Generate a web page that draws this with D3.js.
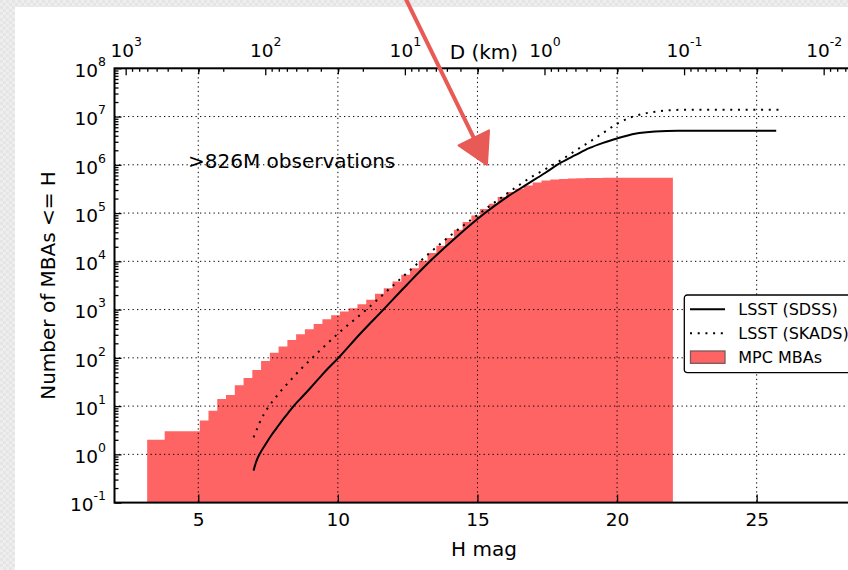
<!DOCTYPE html>
<html>
<head>
<meta charset="utf-8">
<script src="https://cdn.jsdelivr.net/npm/d3@7"></script>
<style>
body { margin: 0; background: #ececec; }
svg { display: block; font-family: "DejaVu Sans", sans-serif; }
</style>
</head>
<body>
<svg id="chart"></svg>
<script>
// cumulative MPC main-belt asteroid counts, 60 equal bins between histStart and histEnd (H mag)
const histStart = 3.17;
const histEnd = 22.0;
const mpcCounts = [2, 2, 3, 3, 3, 3, 5, 8, 14, 17, 27, 38, 56, 86, 128, 171, 235, 308, 392, 505,
    631, 760, 910, 1070, 1295, 1590, 2120, 2780, 3810, 5240, 7220, 10230, 14800, 21000, 30300,
    45000, 65000, 89000, 121000, 156000, 215000, 273000, 319000, 374000, 432000, 474000, 495000,
    510000, 520000, 527000, 532000, 535000, 537000, 538000, 539000, 540000, 540000, 540000,
    540000, 540000];
// LSST expected cumulative counts, SDSS based model
const hSdss = [6.98, 7.06, 7.14, 7.22, 7.4, 7.6, 7.8, 8.0, 8.2, 8.35, 8.5, 8.7, 9.0, 9.5, 10.02,
    10.8, 11.63, 12.5, 13.3, 14.3, 15.27, 16.0, 16.71, 17.42, 18.0, 18.5, 19.0, 19.5, 20.0, 20.64,
    21.36, 22.19, 25.7];
const nSdss = [0.46, 0.66, 0.87, 1.07, 1.58, 2.4, 3.45, 5.0, 7.0, 9.0, 11.4, 15.1, 23.2, 48.9, 100,
    316, 1000, 3390, 10000, 33900, 100000, 204000, 374000, 676000, 1.12e6, 1.58e6, 2.21e6, 2.85e6,
    3.51e6, 4.42e6, 4.93e6, 5.09e6, 5.09e6];
// LSST expected cumulative counts, SKADS based model
const hSkads = [6.98, 7.1, 7.2, 7.35, 7.5, 7.65, 7.8, 8.0, 8.25, 8.5, 8.75, 9.0, 9.5, 10.0, 11.0,
    12.0, 13.0, 14.0, 15.0, 16.0, 17.0, 17.5, 18.0, 18.5, 19.0, 19.5, 20.0, 20.5, 21.0, 21.5, 22.0,
    22.5, 25.94];
const nSkads = [2.25, 3.31, 4.57, 6.76, 9.33, 12.3, 15.8, 21.9, 31.6, 45.7, 64.6, 89.1, 170, 316,
    977, 3240, 10700, 33100, 91200, 240000, 589000, 851000, 1.26e6, 1.95e6, 2.95e6, 4.57e6, 7.08e6,
    9.66e6, 1.16e7, 1.29e7, 1.36e7, 1.39e7, 1.39e7];
// axis ticks
const hTicks = [5, 10, 15, 20, 25];
const countDecades = [-1, 0, 1, 2, 3, 4, 5, 6, 7, 8];
const diamDecades = [3, 2, 1, 0, -1, -2];
const legendItems = ["LSST (SDSS)", "LSST (SKADS)", "MPC MBAs"];
const noteText = ">826M observations";

const W = 848, H = 570;
const histColor = "#ff6464";
const arrowColor = "#e85a55";
const svg = d3.select("#chart").attr("width", W).attr("height", H);

// checkered slide background with the white page on top
const defs = svg.append("defs");
const pat = defs.append("pattern").attr("id", "checker")
    .attr("width", 6).attr("height", 6).attr("patternUnits", "userSpaceOnUse");
pat.append("rect").attr("width", 6).attr("height", 6).attr("fill", "#eeeeee");
pat.append("rect").attr("width", 3).attr("height", 3).attr("fill", "#e5e5e5");
pat.append("rect").attr("x", 3).attr("y", 3).attr("width", 3).attr("height", 3).attr("fill", "#e5e5e5");
svg.append("rect").attr("width", W).attr("height", H).attr("fill", "url(#checker)");
svg.append("rect").attr("x", 15).attr("y", 7).attr("width", W - 15).attr("height", H - 7).attr("fill", "white");

const plotLeft = 114.5, plotTop = 68.3, plotBottom = 502.6;
const pxPerMag = 27.92;
const hMin = 2, hMax = 28.5;
const x = d3.scaleLinear().domain([hMin, hMax]).range([plotLeft, plotLeft + (hMax - hMin) * pxPerMag]);
const y = d3.scaleLog().domain([0.1, 1e8]).range([plotBottom, plotTop]);
const plotRight = x(hMax);
// diameter in km for a given H
const diam = h => Math.pow(10, 3.48 - h / 5);
const xD = d3.scaleLog().domain([diam(hMin), diam(hMax)]).range([plotLeft, plotRight]);

defs.append("clipPath").attr("id", "plotClip")
    .append("rect")
    .attr("x", plotLeft).attr("y", plotTop)
    .attr("width", plotRight - plotLeft).attr("height", plotBottom - plotTop);
const plot = svg.append("g").attr("clip-path", "url(#plotClip)");

// histogram
const binW = (histEnd - histStart) / mpcCounts.length;
const histPts = mpcCounts.map((c, i) => [histStart + i * binW, c]);
histPts.push([histEnd, mpcCounts[mpcCounts.length - 1]]);
const histArea = d3.area()
    .curve(d3.curveStepAfter)
    .x(d => x(d[0]))
    .y0(plotBottom)
    .y1(d => y(d[1]));
plot.append("path")
    .attr("d", histArea(histPts))
    .attr("fill", histColor);

// dotted grid
const grid = plot.append("g")
    .attr("stroke", "black")
    .attr("stroke-width", 1)
    .attr("stroke-dasharray", "1.3,3.2");
grid.selectAll("line.v")
    .data(hTicks)
    .enter()
    .append("line")
    .attr("x1", d => x(d)).attr("x2", d => x(d))
    .attr("y1", plotTop).attr("y2", plotBottom);
grid.selectAll("line.h")
    .data(countDecades.slice(1, -1))
    .enter()
    .append("line")
    .attr("x1", plotLeft).attr("x2", plotRight)
    .attr("y1", d => y(Math.pow(10, d))).attr("y2", d => y(Math.pow(10, d)));

// model curves
const curve = d3.line().curve(d3.curveMonotoneX).x(d => x(d[0])).y(d => y(d[1]));
plot.append("path")
    .attr("d", curve(hSdss.map((h, i) => [h, nSdss[i]])))
    .attr("fill", "none")
    .attr("stroke", "black")
    .attr("stroke-width", 2);
plot.append("path")
    .attr("d", curve(hSkads.map((h, i) => [h, nSkads[i]])))
    .attr("fill", "none")
    .attr("stroke", "black")
    .attr("stroke-width", 2)
    .attr("stroke-dasharray", "2,5.7");

// axes (ticks point inward)
const styleAxis = g => {
    g.select(".domain").remove();
    g.attr("font-size", 18.5).attr("font-family", "DejaVu Sans, sans-serif");
    g.selectAll(".tick line").attr("stroke-width", 1.3);
    g.selectAll(".tick text").attr("fill", "black");
};
const powerLabel = (g, fmt) => {
    g.selectAll(".tick text").each(function (d) {
        const t = d3.select(this);
        t.text("10");
        t.append("tspan").attr("dy", -11).attr("font-size", 12.5).text(fmt(d));
    });
};
const expOf = d => String(Math.round(Math.log10(d)));

// left: counts
svg.append("g")
    .attr("transform", `translate(${plotLeft},0)`)
    .call(d3.axisLeft(y).tickValues(countDecades.map(e => Math.pow(10, e))).tickSize(-7).tickPadding(8.5))
    .call(styleAxis)
    .call(g => g.selectAll(".tick text").attr("dy", "0.45em"))
    .call(g => powerLabel(g, expOf));
const countMinor = [];
countDecades.slice(0, -1).forEach(e => d3.range(2, 10).forEach(m => countMinor.push(m * Math.pow(10, e))));
svg.append("g")
    .attr("transform", `translate(${plotLeft},0)`)
    .call(d3.axisLeft(y).tickValues(countMinor).tickSize(-4).tickFormat(""))
    .call(styleAxis);

// bottom: H mag
svg.append("g")
    .attr("transform", `translate(0,${plotBottom})`)
    .call(d3.axisBottom(x).tickValues(hTicks).tickSize(-8).tickPadding(10.3))
    .call(styleAxis);
svg.append("g")
    .attr("transform", `translate(0,${plotTop})`)
    .call(d3.axisTop(x).tickValues(hTicks).tickSize(-6).tickFormat(""))
    .call(styleAxis);

// top: diameter
svg.append("g")
    .attr("transform", `translate(0,${plotTop})`)
    .call(d3.axisTop(xD).tickValues(diamDecades.map(e => Math.pow(10, e))).tickSize(-7).tickPadding(11.6))
    .call(styleAxis)
    .call(g => powerLabel(g, expOf));
const diamMinor = [];
d3.range(-3, 4).forEach(e => d3.range(2, 10).forEach(m => {
    const v = m * Math.pow(10, e);
    if (v < diam(hMin) && v > diam(hMax)) diamMinor.push(v);
}));
svg.append("g")
    .attr("transform", `translate(0,${plotTop})`)
    .call(d3.axisTop(xD).tickValues(diamMinor).tickSize(-3.5).tickFormat(""))
    .call(styleAxis);

// spines
svg.append("rect")
    .attr("x", plotLeft).attr("y", plotTop)
    .attr("width", plotRight - plotLeft).attr("height", plotBottom - plotTop)
    .attr("fill", "none")
    .attr("stroke", "black")
    .attr("stroke-width", 2);

// axis titles
svg.append("text")
    .attr("x", (plotLeft + plotRight) / 2 - 0.5).attr("y", 556)
    .attr("text-anchor", "middle").attr("font-size", 20)
    .text("H mag");
svg.append("text")
    .attr("x", (plotLeft + plotRight) / 2 - 0.5).attr("y", 59.3)
    .attr("text-anchor", "middle").attr("font-size", 20)
    .text("D (km)");
svg.append("text")
    .attr("transform", `translate(55,${(plotTop + plotBottom) / 2}) rotate(-90)`)
    .attr("text-anchor", "middle").attr("font-size", 20)
    .text("Number of MBAs <= H");
svg.append("text")
    .attr("x", 188).attr("y", 168)
    .attr("font-size", 20)
    .text(noteText);

// legend
const lg = svg.append("g").attr("transform", "translate(684.3,295)");
lg.append("rect")
    .attr("width", 175).attr("height", 77.7).attr("rx", 3)
    .attr("fill", "white").attr("stroke", "black").attr("stroke-width", 1.3);
lg.append("line")
    .attr("x1", 5.7).attr("x2", 40.7).attr("y1", 14.3).attr("y2", 14.3)
    .attr("stroke", "black").attr("stroke-width", 2);
lg.append("line")
    .attr("x1", 5.7).attr("x2", 40.7).attr("y1", 38.3).attr("y2", 38.3)
    .attr("stroke", "black").attr("stroke-width", 2).attr("stroke-dasharray", "2,5.7");
lg.append("rect")
    .attr("x", 6.2).attr("y", 56).attr("width", 34.5).attr("height", 12.3)
    .attr("fill", histColor).attr("stroke", "#7a5a5a").attr("stroke-width", 1.3);
lg.selectAll("text.item")
    .data(legendItems)
    .enter()
    .append("text")
    .attr("x", 54).attr("y", (d, i) => 20 + i * 24)
    .attr("font-size", 16)
    .text(d => d);

// hand drawn red arrow pointing at the curves
const tail = [x(12.44), y(Math.pow(10, 9.43))];
const tip = [x(15.34), y(1e6)];
const dx = tip[0] - tail[0], dy = tip[1] - tail[1];
const len = Math.hypot(dx, dy);
const ux = dx / len, uy = dy / len;
const base = [tip[0] - 30 * ux, tip[1] - 30 * uy];
svg.append("line")
    .attr("x1", tail[0]).attr("y1", tail[1])
    .attr("x2", base[0] + 4 * ux).attr("y2", base[1] + 4 * uy)
    .attr("stroke", arrowColor).attr("stroke-width", 4).attr("stroke-linecap", "round");
svg.append("path")
    .attr("d", `M${tip[0]},${tip[1]}L${base[0] - 17 * uy},${base[1] + 17 * ux}L${base[0] + 17 * uy},${base[1] - 17 * ux}Z`)
    .attr("fill", arrowColor)
    .attr("stroke", arrowColor)
    .attr("stroke-width", 2)
    .attr("stroke-linejoin", "round");
</script>
</body>
</html>
